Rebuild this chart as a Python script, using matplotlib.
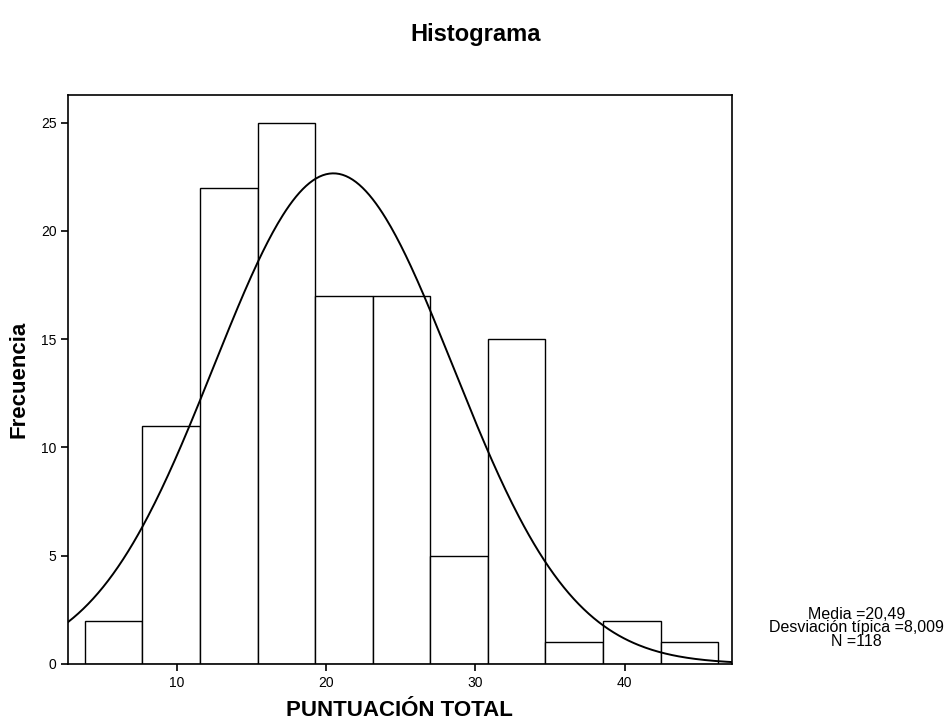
import numpy as np
import matplotlib.pyplot as plt

plt.rcParams['font.family'] = ['Liberation Sans', 'DejaVu Sans']

# histogram data
bin_start = 3.85
bin_width = 3.855
counts = [2, 11, 22, 25, 17, 17, 5, 15, 1, 2, 1]
media = 20.49
desv = 8.009
n = 118

edges = bin_start + bin_width * np.arange(len(counts) + 1)

fig = plt.figure(figsize=(9.52, 7.27), dpi=100)
ax = fig.add_axes([0.0717, 0.0867, 0.697, 0.783])

ax.bar(edges[:-1], counts, width=bin_width, align='edge',
       color='white', edgecolor='black', linewidth=1.0)

xs = np.linspace(2.74, 47.17, 400)
curve = n * bin_width / (desv * np.sqrt(2 * np.pi)) * np.exp(-0.5 * ((xs - media) / desv) ** 2)
ax.plot(xs, curve, color='black', linewidth=1.4, zorder=3)

ax.set_xlim(2.74, 47.17)
ax.set_ylim(0, 26.29)
ax.set_xticks([10, 20, 30, 40])
ax.set_yticks([0, 5, 10, 15, 20, 25])
ax.tick_params(direction='out', length=5, width=1.2, labelsize=10, colors='black')
for s in ax.spines.values():
    s.set_linewidth(1.2)

fig.text(0.5, 0.953, 'Histograma', ha='center', va='center', fontsize=17, fontweight='bold')
fig.text(0.42, 0.008, 'PUNTUACIÓN TOTAL', ha='center', va='bottom', fontsize=16, fontweight='bold')
fig.text(0.02, 0.478, 'Frecuencia', ha='center', va='center', rotation=90, fontsize=16, fontweight='bold')

fig.text(0.9, 0.107, 'Media =20,49\nDesviación típica =8,009\nN =118',
         ha='center', va='bottom', fontsize=11.5, linespacing=0.9, multialignment='center')

fig.savefig('out.png', dpi=100)
